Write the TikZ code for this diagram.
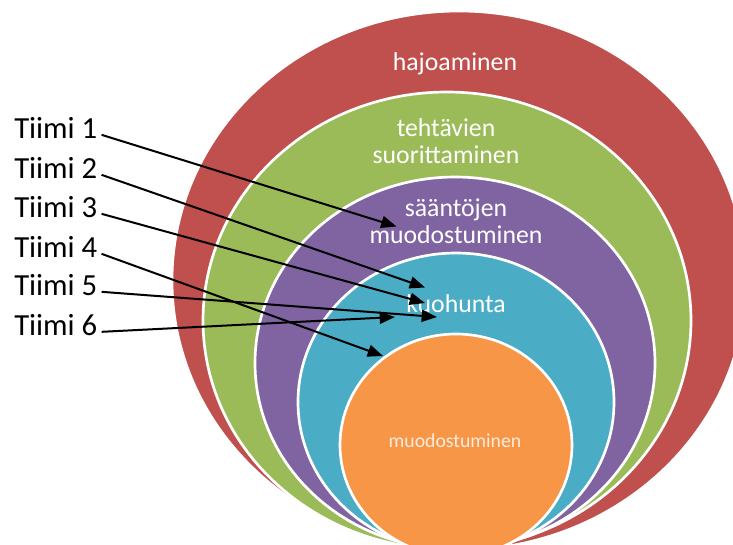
\documentclass[tikz,border=0pt]{standalone}
\usepackage{fontspec}
\setmainfont{Carlito}
\usetikzlibrary{arrows.meta}
\definecolor{ringred}{HTML}{C0504D}
\definecolor{ringgreen}{HTML}{9BBB59}
\definecolor{ringpurple}{HTML}{8064A2}
\definecolor{ringcyan}{HTML}{4BACC6}
\definecolor{ringorange}{HTML}{F79646}
\begin{document}
\begin{tikzpicture}[x=0.75pt,y=-0.75pt,
  ring/.style={fill=#1, draw=white, line width=2pt},
  ringlabel/.style={text=white, font=\fontsize{19.3}{20}\selectfont, anchor=base, inner sep=0pt},
  corelabel/.style={text=white!82!ringorange, font=\fontsize{14.8}{16}\selectfont, anchor=base, inner sep=0pt},
  team/.style={font=\fontsize{23}{24}\selectfont, anchor=base west, inner xsep=3pt, inner ysep=0pt},
  pointer/.style={line width=1.5pt, -{Triangle[length=11.5pt,width=9pt]}}]
\useasboundingbox (0,0) rectangle (733,544);
\clip (0,0) rectangle (733,544);
\fill[white] (0,0) rectangle (733,544);

% stacked rings, all resting on the bottom edge
\path[ring=ringred]    (459,280.5) ellipse [x radius=287, y radius=269.5];
\path[ring=ringgreen]  (447,320.5) ellipse [x radius=244, y radius=228.5];
\path[ring=ringpurple] (455,363)   ellipse [x radius=200, y radius=186];
\path[ring=ringcyan]   (456,402)   ellipse [x radius=158, y radius=149];
\path[ring=ringorange] (456,445)   ellipse [x radius=116, y radius=111];

% stage labels
\node[ringlabel] (hajo)  at (455,70.5)  {hajoaminen};
\node[ringlabel] (teht1) at (446,136.5) {tehtävien};
\node[ringlabel] (teht2) at (446,163)   {suorittaminen};
\node[ringlabel] (saan1) at (456,216.5) {sääntöjen};
\node[ringlabel] (saan2) at (456,243)   {muodostuminen};
\node[ringlabel] (kuoh)  at (456,312.5) {kuohunta};
\node[corelabel] (muod)  at (455,447)   {muodostuminen};

% team labels
\node[team] (t1) at (10,138) {Tiimi 1};
\node[team] (t2) at (10,178) {Tiimi 2};
\node[team] (t3) at (10,217) {Tiimi 3};
\node[team] (t4) at (10,257) {Tiimi 4};
\node[team] (t5) at (10,295) {Tiimi 5};
\node[team] (t6) at (10,335) {Tiimi 6};

% where each team currently stands
\coordinate (p1) at (396.5,226.5);
\coordinate (p2) at (425,287.5);
\coordinate (p3) at (425,303);
\coordinate (p4) at (383,356);
\coordinate (p5) at (437,317);
\coordinate (p6) at (395,317);

\draw[pointer] (t1.mid east) -- (p1);
\draw[pointer] (t2.mid east) -- (p2);
\draw[pointer] (t3.mid east) -- (p3);
\draw[pointer] (t4.mid east) -- (p4);
\draw[pointer] (t5.mid east) -- (p5);
\draw[pointer] (t6.mid east) -- (p6);
\end{tikzpicture}
\end{document}
